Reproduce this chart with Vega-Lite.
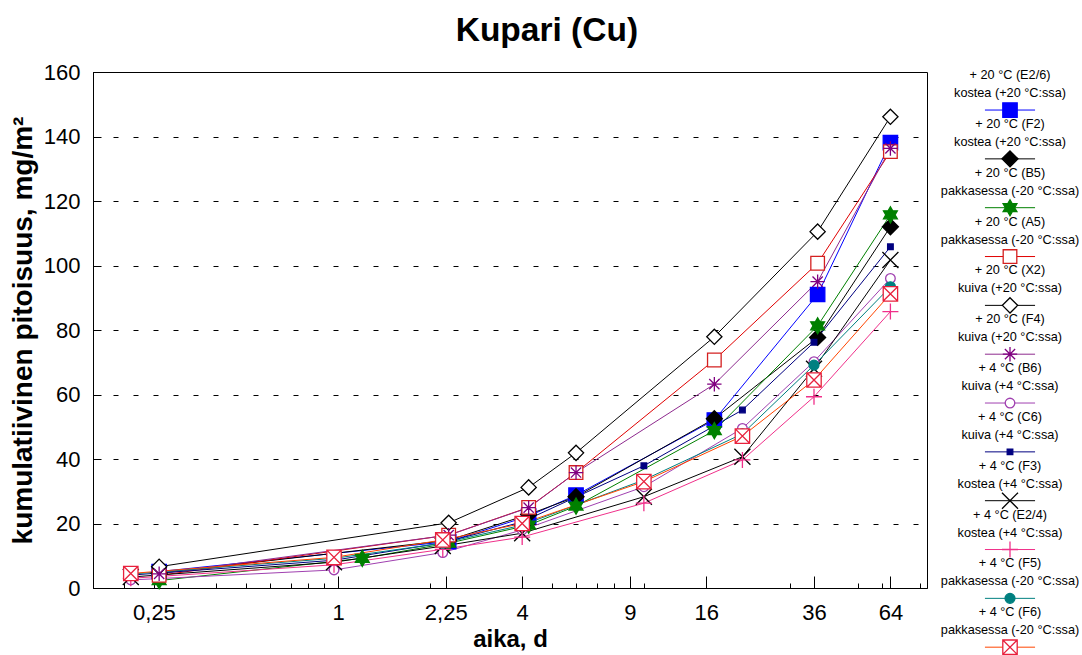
{
  "$schema": "https://vega.github.io/schema/vega-lite/v6.json",
  "padding": {"left": 8, "top": 14, "right": 0, "bottom": 0},
  "title": {"text": "Kupari (Cu)", "fontSize": 33.5, "fontWeight": "bold", "font": "Liberation Sans", "anchor": "middle", "offset": 12, "color": "#000"},
  "config": {
    "font": "Liberation Sans",
    "view": {"stroke": "#000", "strokeWidth": 1},
    "axis": {"domainColor": "#000", "tickColor": "#000", "labelColor": "#000", "titleColor": "#000", "labelFont": "Liberation Sans", "titleFont": "Liberation Sans"}
  },
  "datasets": {
    "pts": [
      {"s": "E2/6", "t": 0.26, "v": 5.1}, {"s": "E2/6", "t": 2.3, "v": 14.4}, {"s": "E2/6", "t": 4.2, "v": 22.3}, {"s": "E2/6", "t": 6, "v": 28.8}, {"s": "E2/6", "t": 17, "v": 52.1}, {"s": "E2/6", "t": 37, "v": 91.0}, {"s": "E2/6", "t": 64, "v": 138.1},
      {"s": "F2", "t": 0.26, "v": 4.6}, {"s": "F2", "t": 2.3, "v": 14.8}, {"s": "F2", "t": 4.2, "v": 22.8}, {"s": "F2", "t": 6, "v": 28.3}, {"s": "F2", "t": 17, "v": 52.5}, {"s": "F2", "t": 37, "v": 77.7}, {"s": "F2", "t": 64, "v": 112.0},
      {"s": "B5", "t": 0.26, "v": 2.3}, {"s": "B5", "t": 1.2, "v": 9.2}, {"s": "B5", "t": 2.3, "v": 13.9}, {"s": "B5", "t": 4.2, "v": 19.5}, {"s": "B5", "t": 6, "v": 25.4}, {"s": "B5", "t": 17, "v": 48.8}, {"s": "B5", "t": 37, "v": 81.3}, {"s": "B5", "t": 64, "v": 115.7},
      {"s": "A5", "t": 0.26, "v": 3.9}, {"s": "A5", "t": 2.3, "v": 16.4}, {"s": "A5", "t": 4.2, "v": 25.0}, {"s": "A5", "t": 6, "v": 35.8}, {"s": "A5", "t": 17, "v": 70.7}, {"s": "A5", "t": 37, "v": 100.7}, {"s": "A5", "t": 64, "v": 135.3},
      {"s": "X2", "t": 0.26, "v": 6.6}, {"s": "X2", "t": 2.3, "v": 20.2}, {"s": "X2", "t": 4.2, "v": 31.2}, {"s": "X2", "t": 6, "v": 41.9}, {"s": "X2", "t": 17, "v": 77.9}, {"s": "X2", "t": 37, "v": 110.5}, {"s": "X2", "t": 64, "v": 146.1},
      {"s": "F4", "t": 0.26, "v": 4.4}, {"s": "F4", "t": 2.3, "v": 16.4}, {"s": "F4", "t": 4.2, "v": 24.9}, {"s": "F4", "t": 6, "v": 35.8}, {"s": "F4", "t": 17, "v": 63.2}, {"s": "F4", "t": 37, "v": 95.0}, {"s": "F4", "t": 64, "v": 136.3},
      {"s": "B6", "t": 0.21, "v": 2.5}, {"s": "B6", "t": 0.97, "v": 5.6}, {"s": "B6", "t": 2.2, "v": 11.0}, {"s": "B6", "t": 4, "v": 18.0}, {"s": "B6", "t": 10, "v": 31.4}, {"s": "B6", "t": 21, "v": 49.5}, {"s": "B6", "t": 36, "v": 70.2}, {"s": "B6", "t": 64, "v": 96.0},
      {"s": "C6", "t": 0.21, "v": 4.0}, {"s": "C6", "t": 0.97, "v": 8.6}, {"s": "C6", "t": 2.2, "v": 14.0}, {"s": "C6", "t": 4, "v": 20.5}, {"s": "C6", "t": 10, "v": 37.9}, {"s": "C6", "t": 21, "v": 55.2}, {"s": "C6", "t": 36, "v": 76.2}, {"s": "C6", "t": 64, "v": 105.8},
      {"s": "F3", "t": 0.21, "v": 3.4}, {"s": "F3", "t": 0.97, "v": 8.0}, {"s": "F3", "t": 2.2, "v": 13.0}, {"s": "F3", "t": 4, "v": 17.0}, {"s": "F3", "t": 10, "v": 28.3}, {"s": "F3", "t": 21, "v": 40.7}, {"s": "F3", "t": 36, "v": 68.0}, {"s": "F3", "t": 64, "v": 101.7},
      {"s": "E2/4", "t": 0.21, "v": 3.0}, {"s": "E2/4", "t": 0.97, "v": 7.2}, {"s": "E2/4", "t": 2.2, "v": 12.0}, {"s": "E2/4", "t": 4, "v": 15.8}, {"s": "E2/4", "t": 10, "v": 26.3}, {"s": "E2/4", "t": 21, "v": 39.7}, {"s": "E2/4", "t": 36, "v": 59.3}, {"s": "E2/4", "t": 64, "v": 85.7},
      {"s": "F5", "t": 0.21, "v": 4.3}, {"s": "F5", "t": 0.97, "v": 9.2}, {"s": "F5", "t": 2.2, "v": 13.9}, {"s": "F5", "t": 4, "v": 19.5}, {"s": "F5", "t": 10, "v": 33.5}, {"s": "F5", "t": 21, "v": 47.8}, {"s": "F5", "t": 36, "v": 69.1}, {"s": "F5", "t": 64, "v": 93.4},
      {"s": "F6", "t": 0.21, "v": 4.5}, {"s": "F6", "t": 0.97, "v": 9.5}, {"s": "F6", "t": 2.2, "v": 14.9}, {"s": "F6", "t": 4, "v": 20.0}, {"s": "F6", "t": 10, "v": 33.0}, {"s": "F6", "t": 21, "v": 47.1}, {"s": "F6", "t": 36, "v": 64.5}, {"s": "F6", "t": 64, "v": 91.2}
    ],
    "leg": [
      {"s": "E2/6", "order": 1, "l1": "+ 20 °C (E2/6)", "l2": "kostea (+20 °C:ssa)"},
      {"s": "F2", "order": 2, "l1": "+ 20 °C (F2)", "l2": "kostea (+20 °C:ssa)"},
      {"s": "B5", "order": 3, "l1": "+ 20 °C (B5)", "l2": "pakkasessa (-20 °C:ssa)"},
      {"s": "A5", "order": 4, "l1": "+ 20 °C (A5)", "l2": "pakkasessa (-20 °C:ssa)"},
      {"s": "X2", "order": 5, "l1": "+ 20 °C (X2)", "l2": "kuiva (+20 °C:ssa)"},
      {"s": "F4", "order": 6, "l1": "+ 20 °C (F4)", "l2": "kuiva (+20 °C:ssa)"},
      {"s": "B6", "order": 7, "l1": "+ 4 °C (B6)", "l2": "kuiva (+4 °C:ssa)"},
      {"s": "C6", "order": 8, "l1": "+ 4 °C (C6)", "l2": "kuiva (+4 °C:ssa)"},
      {"s": "F3", "order": 9, "l1": "+ 4 °C (F3)", "l2": "kostea (+4 °C:ssa)"},
      {"s": "E2/4", "order": 10, "l1": "+ 4 °C (E2/4)", "l2": "kostea (+4 °C:ssa)"},
      {"s": "F5", "order": 11, "l1": "+ 4 °C (F5)", "l2": "pakkasessa (-20 °C:ssa)"},
      {"s": "F6", "order": 12, "l1": "+ 4 °C (F6)", "l2": "pakkasessa (-20 °C:ssa)"}
    ]
  },
  "hconcat": [
    {
      "width": 834,
      "height": 516,
      "data": {"name": "pts"},
      "encoding": {
        "y": {
          "field": "v", "type": "quantitative",
          "scale": {"domain": [0, 160], "nice": false},
          "axis": {
            "title": "kumulatiivinen pitoisuus, mg/m²",
            "values": [0, 20, 40, 60, 80, 100, 120, 140, 160],
            "grid": true,
            "gridDash": [5, 15],
            "gridColor": "#000",
            "gridWidth": 1,
            "tickSize": -8,
            "labelFontSize": 22,
            "titleFontSize": 28,
            "titleFontWeight": "bold",
            "labelPadding": 21,
            "titlePadding": 6
          }
        }
      },
      "layer": [
        {
          "mark": {"type": "line", "strokeWidth": 1},
          "encoding": {
            "x": {
              "field": "t", "type": "quantitative",
              "scale": {"type": "log", "domain": [0.158, 84.3], "nice": false, "zero": false},
              "axis": {
                "orient": "bottom",
                "title": "aika, d",
                "values": [0.25, 1, 2.25, 4, 9, 16, 36, 64],
                "labelExpr": "datum.value == 0.25 ? '0,25' : datum.value == 2.25 ? '2,25' : toString(datum.value)",
                "tickSize": -12,
                "tickWidth": 1,
                "labelFontSize": 22,
                "titleFontSize": 24,
                "titleFontWeight": "bold",
                "labelPadding": 26,
                "titlePadding": 4,
                "grid": false,
                "labelOverlap": false,
                "labelFlush": false
              }
            },
            "color": {
              "field": "s", "type": "nominal", "legend": null,
              "scale": {"domain": ["E2/6", "F2", "B5", "A5", "X2", "F4", "B6", "C6", "F3", "E2/4", "F5", "F6"],
                        "range": ["#0000FF", "#000000", "#008000", "#E00000", "#000000", "#8E2A8E", "#A040B0", "#000080", "#000000", "#F0308A", "#008080", "#FF4500"]}
            },
            "detail": {"field": "s"}
          }
        },
        {
          "mark": {"type": "point", "filled": true, "opacity": 1, "size": 256, "strokeWidth": 1.3},
          "encoding": {
            "x": {
              "field": "t", "type": "quantitative",
              "axis": {
                "orient": "bottom",
                "title": null,
                "values": [0.2, 0.3, 0.4, 0.5, 0.6, 0.7, 0.8, 0.9, 2, 5, 6, 7, 8, 10, 30, 50, 60, 80],
                "labels": false,
                "domain": false,
                "grid": false,
                "tickSize": -5,
                "tickWidth": 1
              }
            },
            "shape": {
              "field": "s", "type": "nominal", "legend": null,
              "scale": {"domain": ["E2/6", "F2", "B5", "A5", "X2", "F4", "B6", "C6", "F3", "E2/4", "F5", "F6"],
                        "range": [
                          "M-0.9,-0.9L0.9,-0.9L0.9,0.9L-0.9,0.9Z",
                          "M0,-1L1,0L0,1L-1,0Z",
                          "M0,-1L0.289,-0.5L0.866,-0.5L0.577,0L0.866,0.5L0.289,0.5L0,1L-0.289,0.5L-0.866,0.5L-0.577,0L-0.866,-0.5L-0.289,-0.5Z",
                          "M-0.85,-0.85L0.85,-0.85L0.85,0.85L-0.85,0.85Z",
                          "M0,-0.95L0.95,0L0,0.95L-0.95,0Z",
                          "M0,-0.9L0,0.9M-0.9,0L0.9,0M-0.64,-0.64L0.64,0.64M-0.64,0.64L0.64,-0.64",
                          "M-0.6,0A0.6,0.6,0,1,0,0.6,0A0.6,0.6,0,1,0,-0.6,0Z",
                          "M-0.35,-0.35L0.35,-0.35L0.35,0.35L-0.35,0.35Z",
                          "M-1,-1L1,1M-1,1L1,-1",
                          "M0,-1L0,1M-1,0L1,0",
                          "M-0.62,0A0.62,0.62,0,1,0,0.62,0A0.62,0.62,0,1,0,-0.62,0Z",
                          "M-0.9,-0.9L0.9,-0.9L0.9,0.9L-0.9,0.9ZM-0.9,-0.9L0.9,0.9M-0.9,0.9L0.9,-0.9"
                        ]}
            },
            "fill": {
              "field": "s", "type": "nominal", "legend": null,
              "scale": {"domain": ["E2/6", "F2", "B5", "A5", "X2", "F4", "B6", "C6", "F3", "E2/4", "F5", "F6"],
                        "range": ["#0000FF", "#000000", "#008000", "#FFFFFF", "#FFFFFF", "transparent", "#FFFFFF", "#000080", "transparent", "transparent", "#008080", "#FFFFFF"]}
            },
            "stroke": {
              "field": "s", "type": "nominal", "legend": null,
              "scale": {"domain": ["E2/6", "F2", "B5", "A5", "X2", "F4", "B6", "C6", "F3", "E2/4", "F5", "F6"],
                        "range": ["#0000FF", "#000000", "#008000", "#D42020", "#000000", "#800080", "#A040B0", "#000080", "#000000", "#F0308A", "#008080", "#E8203C"]}
            }
          }
        }
      ],
      "resolve": {"axis": {"x": "independent"}}
    },
    {
      "width": 150,
      "height": 583,
      "view": {"stroke": null},
      "data": {"name": "leg"},
      "encoding": {
        "y": {"field": "order", "type": "quantitative", "scale": {"domain": [0.221, 12.16], "reverse": true, "nice": false, "zero": false}, "axis": null}
      },
      "layer": [
        {
          "mark": {"type": "rule", "strokeWidth": 1},
          "encoding": {
            "x": {"datum": 0.333, "type": "quantitative", "scale": {"domain": [0, 1], "nice": false}, "axis": null},
            "x2": {"datum": 0.667},
            "color": {"field": "s", "type": "nominal", "legend": null,
              "scale": {"domain": ["E2/6", "F2", "B5", "A5", "X2", "F4", "B6", "C6", "F3", "E2/4", "F5", "F6"],
                        "range": ["#0000FF", "#000000", "#008000", "#E00000", "#000000", "#8E2A8E", "#A040B0", "#000080", "#000000", "#F0308A", "#008080", "#FF4500"]}}
          }
        },
        {
          "mark": {"type": "point", "filled": true, "opacity": 1, "size": 256, "strokeWidth": 1.3},
          "encoding": {
            "x": {"datum": 0.5, "type": "quantitative", "scale": {"domain": [0, 1], "nice": false}, "axis": null},
            "shape": {"field": "s", "type": "nominal", "legend": null},
            "fill": {"field": "s", "type": "nominal", "legend": null},
            "stroke": {"field": "s", "type": "nominal", "legend": null}
          }
        },
        {
          "mark": {"type": "text", "fontSize": 12.7, "dy": -35, "align": "center", "baseline": "middle", "color": "#000"},
          "encoding": {
            "x": {"datum": 0.5, "type": "quantitative", "scale": {"domain": [0, 1], "nice": false}, "axis": null},
            "text": {"field": "l1"}
          }
        },
        {
          "mark": {"type": "text", "fontSize": 12.7, "dy": -17, "align": "center", "baseline": "middle", "color": "#000"},
          "encoding": {
            "x": {"datum": 0.5, "type": "quantitative", "scale": {"domain": [0, 1], "nice": false}, "axis": null},
            "text": {"field": "l2"}
          }
        }
      ]
    }
  ],
  "spacing": 7
}
